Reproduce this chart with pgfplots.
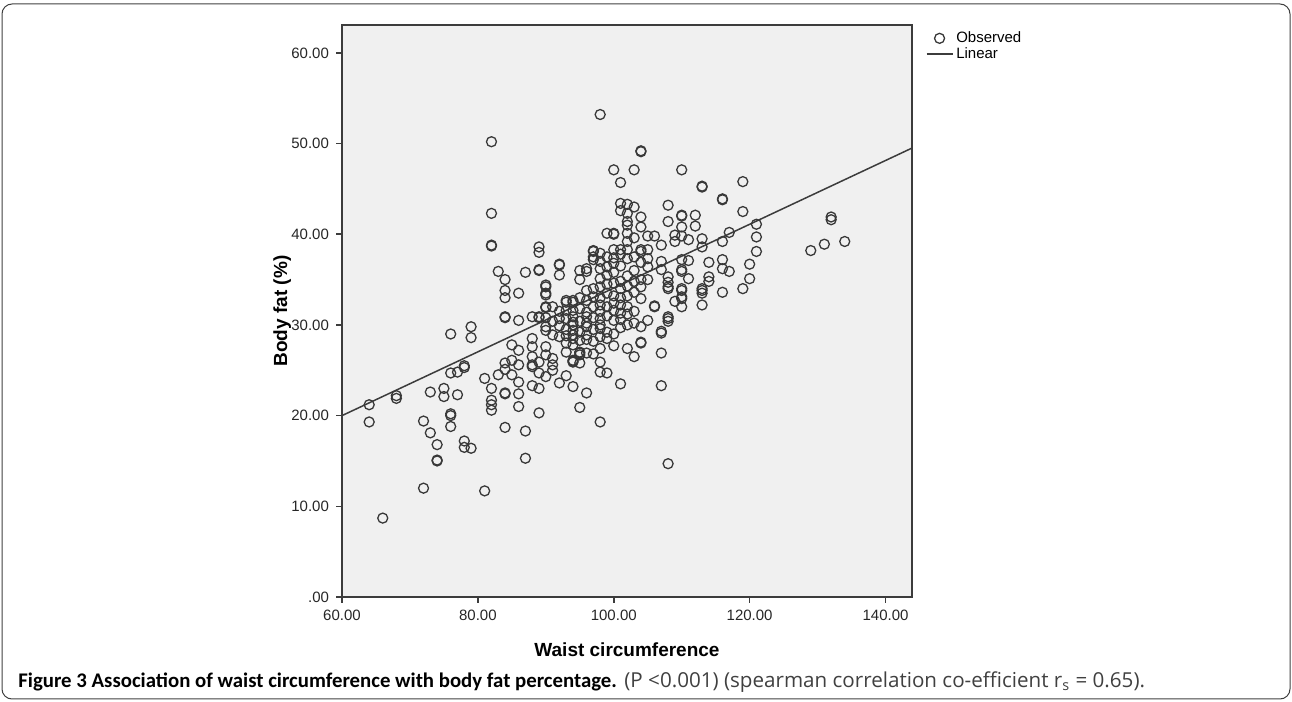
\documentclass[border=0pt]{standalone}
\usepackage{fontspec}
\setmainfont{Liberation Sans}
\newfontfamily\capfont{Carlito}
\newfontfamily\capfontl{Open Sans}
\usepackage{pgfplots}
\pgfplotsset{compat=1.18}
\definecolor{bggray}{RGB}{240,240,240}
\definecolor{ink}{RGB}{60,60,60}

\pgfplotsset{
  obs legend/.style={legend image code/.code={\draw[mark repeat=2,mark phase=2,##1]
    plot coordinates {(0pt,0pt) (6.5pt,0pt) (13pt,0pt)};}},
  fit legend/.style={legend image code/.code={\draw[##1] (0pt,0pt) -- (13pt,0pt);}},
}

% waist circumference vs body fat
\pgfplotstableread{
x y
64 21.2
64 19.3
66 8.7
68 22.2
68 21.9
72 19.4
72 12.0
73 22.6
73 18.1
74 16.8
74 15.0
74 15.1
75 23.0
75 22.1
76 29.0
76 24.7
76 20.2
76 20.0
76 18.8
77 24.8
77 22.3
78 25.5
78 25.3
78 17.2
78 16.5
79 29.8
79 28.6
79 16.4
81 24.1
81 11.7
82 50.2
82 42.3
82 38.8
82 38.7
82 23.0
82 21.7
82 21.2
82 20.6
83 35.9
83 24.5
84 35.0
84 33.8
84 33.0
84 30.9
84 30.8
84 25.8
84 25.1
84 22.5
84 22.4
84 18.7
85 26.1
85 24.5
85 27.8
86 33.5
86 30.5
86 27.2
86 25.6
86 23.7
86 22.4
86 21.0
87 35.8
87 18.3
87 15.3
88 30.9
88 28.5
88 27.6
88 26.5
88 25.6
88 25.4
88 23.3
89 38.6
89 38.0
89 36.0
89 36.1
89 30.8
89 30.9
89 25.9
89 24.7
89 23.0
89 20.3
90 34.4
90 33.5
90 34.2
90 33.3
90 32.0
90 31.9
90 29.4
90 26.7
90 24.3
90 27.6
90 30.8
90 29.8
91 28.9
91 26.3
91 25.6
91 25.0
91 32.0
91 30.4
92 36.6
92 35.5
92 36.7
92 30.7
92 23.6
92 31.5
92 29.9
92 28.7
93 32.7
93 28.0
93 27.0
93 24.4
93 32.5
93 31.6
93 30.7
93 29.5
93 28.8
94 32.7
94 30.9
94 30.0
94 28.9
94 27.8
94 26.1
94 26.0
94 25.9
94 23.2
94 32.5
94 31.6
94 30.3
94 29.4
94 28.5
95 36.0
95 35.0
95 26.7
95 27.0
95 25.8
95 20.9
95 26.9
95 33.0
95 31.8
95 30.4
95 29.2
95 28.3
96 36.2
96 35.9
96 32.7
96 30.9
96 29.8
96 28.9
96 26.9
96 22.5
96 33.8
96 31.4
96 30.2
96 28.4
97 38.2
97 38.1
97 37.5
97 37.2
97 34.0
97 26.8
97 33.1
97 32.0
97 30.8
97 29.5
97 28.2
98 53.2
98 37.9
98 37.0
98 36.2
98 35.1
98 34.2
98 31.5
98 30.7
98 29.6
98 28.7
98 27.4
98 25.9
98 24.8
98 19.3
98 33.0
98 32.2
98 30.0
99 40.1
99 37.5
99 24.7
99 34.5
99 33.5
99 32.0
99 31.0
99 29.2
99 28.5
99 36.4
99 35.5
100 47.1
100 40.1
100 40.0
100 38.3
100 27.7
100 35.8
100 34.6
100 33.2
100 32.4
100 31.6
100 30.5
100 29.0
100 37.4
100 36.8
101 45.7
101 43.4
101 42.6
101 38.3
101 34.8
101 34.0
101 23.5
101 33.0
101 32.2
101 31.3
101 30.6
101 29.7
101 37.8
101 36.5
102 43.3
102 42.3
102 41.4
102 41.0
102 40.1
102 39.2
102 38.3
102 37.3
102 27.4
102 35.4
102 34.3
102 33.2
102 32.0
102 31.2
102 30.0
103 47.1
103 43.0
103 26.5
103 34.8
103 33.6
103 31.5
103 30.2
103 37.5
103 36.0
103 39.6
104 49.2
104 49.1
104 41.9
104 40.8
104 38.3
104 38.1
104 35.0
104 34.2
104 32.9
104 29.8
104 28.1
104 28.0
104 36.9
105 39.8
105 38.3
105 37.3
105 36.4
105 35.0
105 30.5
106 39.8
106 32.0
106 32.1
107 38.8
107 37.0
107 36.1
107 29.3
107 26.9
107 23.3
107 29.1
108 43.2
108 41.4
108 35.3
108 34.7
108 34.2
108 34.0
108 30.9
108 30.4
108 30.7
108 14.7
109 39.9
109 39.2
109 32.6
110 47.1
110 42.1
110 42.0
110 40.8
110 39.8
110 37.2
110 36.1
110 35.9
110 34.0
110 33.8
110 33.1
110 32.9
110 32.0
111 39.4
111 37.1
111 35.1
112 42.1
112 40.9
113 45.2
113 45.3
113 39.5
113 38.6
113 34.0
113 33.8
113 33.5
113 32.2
114 36.9
114 35.3
114 34.8
116 43.8
116 43.9
116 39.2
116 37.2
116 36.2
116 33.6
117 40.2
117 35.9
119 45.8
119 42.5
119 34.0
120 36.7
120 35.1
121 41.1
121 39.7
121 38.1
129 38.2
131 38.9
132 41.9
132 41.6
134 39.2
}\observed

\begin{document}
\begin{tikzpicture}[x=1pt,y=1pt]
% page size and outer frame
\path (0,0) rectangle (646,351);
\draw[rounded corners=5pt, line width=0.5pt, black!75] (1,1.5) rectangle (645,349);

\begin{axis}[
  at={(171pt,52.5pt)}, anchor=south west,
  scale only axis, width=285pt, height=286pt,
  xmin=60, xmax=143.9, ymin=0, ymax=63.07,
  axis background/.style={fill=bggray},
  axis line style={ink, line width=0.8pt},
  xtick={60,80,...,140}, xticklabels={60.00,80.00,100.00,120.00,140.00},
  ytick={0,10,...,60}, yticklabels={.00,10.00,20.00,30.00,40.00,50.00,60.00},
  tick align=outside, tick pos=left, major tick length=3pt,
  tick style={ink, line width=0.8pt},
  ticklabel style={font=\fontsize{7.5}{9}\selectfont, text=black!85},
  xlabel={Waist circumference}, ylabel={Body fat (\%)},
  label style={font=\bfseries\fontsize{9.5}{11}\selectfont},
  xlabel style={at={(axis description cs:0.5,-0.093)}, anchor=center},
  ylabel style={at={(axis description cs:-0.105,0.5)}, anchor=center},
  legend style={at={(rel axis cs:1.02,1.0)}, anchor=north west, draw=none, fill=none,
    font=\fontsize{7.5}{9}\selectfont, row sep=-3pt, inner sep=1pt,
    nodes={inner xsep=1.5pt}},
  legend cell align=left,
]
\addplot[only marks, mark=o, mark size=2.5pt, mark options={draw=black!78, line width=0.65pt},
  obs legend]
  table[x=x, y=y] {\observed};
\addlegendentry{Observed}
\addplot[no markers, ink, line width=0.75pt, fit legend]
  coordinates {(60,20.0) (143.9,49.5)};
\addlegendentry{Linear}
\end{axis}

\node[anchor=base west, inner sep=0pt] at (9,7) {%
  {\capfont\bfseries\fontsize{10.4}{12}\selectfont Figure 3 Association of waist circumference with body fat percentage.}
  {\capfontl\fontsize{10.3}{12}\selectfont\color{black!75}(P <0.001) (spearman correlation co-efficient r\textsubscript{s} = 0.65).}};
\end{tikzpicture}
\end{document}
